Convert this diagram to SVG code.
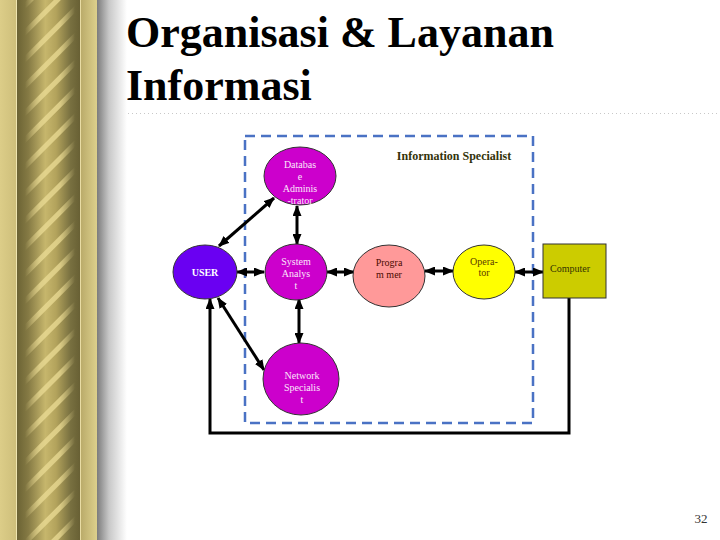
<svg xmlns="http://www.w3.org/2000/svg" width="720" height="540" viewBox="0 0 720 540">
<defs>
<linearGradient id="rope" x1="17" x2="80" y1="0" y2="0" gradientUnits="userSpaceOnUse">
<stop offset="0" stop-color="#6b6334"/><stop offset="0.18" stop-color="#857a44"/><stop offset="0.45" stop-color="#c6b66c"/><stop offset="0.62" stop-color="#b3a35c"/><stop offset="0.85" stop-color="#787040"/><stop offset="1" stop-color="#686034"/>
</linearGradient>
<linearGradient id="outerL" x1="0" x2="1"><stop offset="0" stop-color="#dccd88"/><stop offset="1" stop-color="#cdbe7a"/></linearGradient>
<linearGradient id="outerR" x1="0" x2="1"><stop offset="0" stop-color="#b8a968"/><stop offset="1" stop-color="#ddd08c"/></linearGradient>
<linearGradient id="shadow" x1="0" x2="1"><stop offset="0" stop-color="#7c7c7c"/><stop offset="0.4" stop-color="#c8c8c8"/><stop offset="1" stop-color="#ffffff"/></linearGradient>
<linearGradient id="fade" x1="25" x2="75" y1="0" y2="0" gradientUnits="userSpaceOnUse"><stop offset="0" stop-color="#000"/><stop offset="0.3" stop-color="#fff"/><stop offset="0.7" stop-color="#fff"/><stop offset="1" stop-color="#000"/></linearGradient>
<pattern id="streaks" patternUnits="userSpaceOnUse" width="19" height="19" patternTransform="rotate(-45)">
<rect x="0" y="0" width="19" height="5" fill="#ecdd96"/>
</pattern>
<mask id="streakMask"><rect x="25" y="0" width="50" height="540" fill="url(#fade)"/></mask>
<marker id="ah" markerUnits="userSpaceOnUse" markerWidth="11" markerHeight="9" refX="10" refY="4.5" orient="auto-start-reverse" viewBox="0 0 11 9">
<path d="M0,0 L11,4.5 L0,9 z" fill="#000"/>
</marker>
<style>
.title{font-family:"Liberation Serif","Times New Roman",serif;font-weight:bold;font-size:44px;fill:#000}
.lbl{font-family:"Liberation Serif","Times New Roman",serif;font-size:10px;text-anchor:middle}
.lt{fill:#fbe6fb}
.conn{stroke:#000;stroke-width:3;fill:none}
.node{stroke:#333;stroke-width:1}
</style>
</defs>
<rect width="720" height="540" fill="#fff"/>
<g id="border">
<rect x="0" y="0" width="17" height="540" fill="url(#outerL)"/>
<rect x="17" y="0" width="63" height="540" fill="url(#rope)"/>
<rect x="25" y="0" width="50" height="540" fill="url(#streaks)" opacity="0.75" mask="url(#streakMask)"/>
<rect x="80" y="0" width="17" height="540" fill="url(#outerR)"/>
<line x1="16.5" y1="0" x2="16.5" y2="540" stroke="#efe5b0" stroke-width="1"/>
<line x1="80.5" y1="0" x2="80.5" y2="540" stroke="#e8dca4" stroke-width="1"/>
<rect x="97" y="0" width="30" height="540" fill="url(#shadow)"/>
</g>
<g id="title">
<text class="title" x="126" y="47">Organisasi &amp; Layanan</text>
<text class="title" x="126" y="100">Informasi</text>
<line x1="128" y1="113.5" x2="720" y2="113.5" stroke="#c8c8c8" stroke-width="1" stroke-dasharray="1 3"/>
</g>
<g id="group-box">
<rect x="245" y="136" width="288" height="287" fill="none" stroke="#4a72c4" stroke-width="2.5" stroke-dasharray="10 6"/>
<text x="454" y="160" style="font-family:'Liberation Serif','Times New Roman',serif;font-size:12px;font-weight:bold;fill:#33330a;text-anchor:middle">Information Specialist</text>
</g>
<g id="connectors">
<line class="conn" x1="219" y1="246" x2="274" y2="198" marker-start="url(#ah)" marker-end="url(#ah)"/>
<line class="conn" x1="297" y1="206" x2="297" y2="244" marker-start="url(#ah)" marker-end="url(#ah)"/>
<line class="conn" x1="237" y1="272" x2="264" y2="272" marker-start="url(#ah)" marker-end="url(#ah)"/>
<line class="conn" x1="327" y1="272" x2="354" y2="272" marker-start="url(#ah)" marker-end="url(#ah)"/>
<line class="conn" x1="425" y1="271" x2="453" y2="271" marker-start="url(#ah)" marker-end="url(#ah)"/>
<line class="conn" x1="515" y1="272" x2="543" y2="272" marker-start="url(#ah)" marker-end="url(#ah)"/>
<line class="conn" x1="299" y1="299" x2="299" y2="343" marker-start="url(#ah)" marker-end="url(#ah)"/>
<line class="conn" x1="218" y1="298" x2="264" y2="370" marker-start="url(#ah)" marker-end="url(#ah)"/>
<polyline class="conn" points="569,298 569,433 210,433 210,299" marker-end="url(#ah)"/>
</g>
<g id="node-user">
<ellipse class="node" cx="205" cy="272" rx="32" ry="27" fill="#6a00f2"/>
<text class="lbl" x="205" y="276" style="font-weight:bold;fill:#fff">USER</text>
</g>
<g id="node-dba">
<ellipse class="node" cx="300" cy="176" rx="36" ry="29" fill="#cc00cc"/>
<text class="lbl lt" x="300" y="168">Databas</text>
<text class="lbl lt" x="300" y="180">e</text>
<text class="lbl lt" x="300" y="192">Adminis</text>
<text class="lbl lt" x="300" y="204">-trator</text>
</g>
<g id="node-sa">
<ellipse class="node" cx="296" cy="272" rx="31" ry="28" fill="#cc00cc"/>
<text class="lbl lt" x="296" y="265">System</text>
<text class="lbl lt" x="296" y="277">Analys</text>
<text class="lbl lt" x="296" y="289">t</text>
</g>
<g id="node-programmer">
<ellipse class="node" cx="389" cy="276" rx="36" ry="31" fill="#ff9999"/>
<text class="lbl" x="389" y="266" style="fill:#4a0a00">Progra</text>
<text class="lbl" x="389" y="278" style="fill:#4a0a00">m mer</text>
</g>
<g id="node-operator">
<ellipse class="node" cx="484" cy="272" rx="31" ry="27" fill="#ffff00"/>
<text class="lbl" x="484" y="265" style="fill:#5a3a00">Opera-</text>
<text class="lbl" x="484" y="276" style="fill:#5a3a00">tor</text>
</g>
<g id="node-computer">
<rect class="node" x="543" y="244" width="63" height="54" fill="#cccc00" stroke="#222"/>
<text class="lbl" x="570" y="272" style="fill:#333300">Computer</text>
</g>
<g id="node-network">
<ellipse class="node" cx="301" cy="379" rx="38" ry="36" fill="#cc00cc"/>
<text class="lbl lt" x="302" y="379">Network</text>
<text class="lbl lt" x="302" y="391">Specialis</text>
<text class="lbl lt" x="302" y="403">t</text>
</g>
<text x="701" y="523" style="font-family:'Liberation Serif','Times New Roman',serif;font-size:13px;fill:#333;text-anchor:middle">32</text>
</svg>
